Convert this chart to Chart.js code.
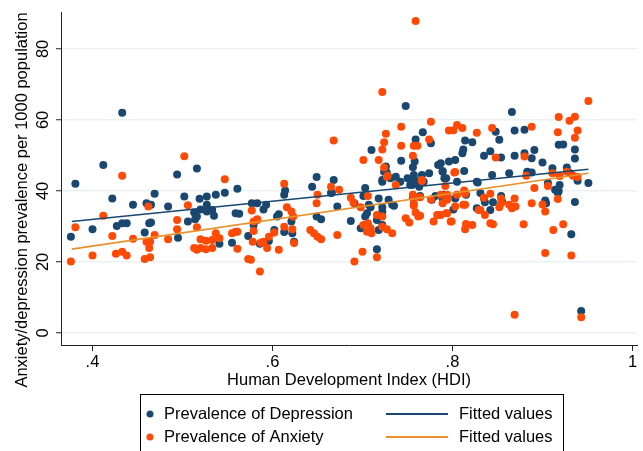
<!DOCTYPE html>
<html lang="en">
<head>
<meta charset="UTF-8">
<title>Anxiety and depression prevalence by HDI</title>
<style>
  body { margin: 0; background: #fff; }
  #chart { display: block; }
</style>
</head>
<body>
<canvas id="chart" width="643" height="451"></canvas>

<script src="https://cdn.jsdelivr.net/npm/chart.js"></script>
<script>
// Depression: HDI and prevalence per 1000
const depHdi = [
  0.433,0.412,0.494,0.516,0.381,0.561,0.547,0.537,0.527,0.519,
  0.502,0.469,0.422,0.445,0.460,0.465,0.484,0.527,0.513,0.520,
  0.527,0.533,0.535,0.516,0.559,0.563,0.577,0.579,0.573,0.586,
  0.376,0.400,0.427,0.433,0.438,0.458,0.463,0.465,0.495,0.506,
  0.514,0.541,0.555,0.649,0.668,0.644,0.614,0.613,0.665,0.703,
  0.691,0.672,0.707,0.705,0.703,0.718,0.729,0.733,0.607,0.605,
  0.593,0.590,0.583,0.649,0.654,0.621,0.602,0.613,0.622,0.624,
  0.596,0.687,0.698,0.716,0.722,0.722,0.718,0.716,0.722,0.724,
  0.727,0.731,0.737,0.742,0.750,0.757,0.759,0.753,0.766,0.768,
  0.774,0.789,0.791,0.756,0.764,0.777,0.790,0.748,0.767,0.759,
  0.776,0.710,0.743,0.758,0.756,0.726,0.784,0.789,0.796,0.814,
  0.822,0.812,0.811,0.803,0.727,0.722,0.755,0.763,0.758,0.793,
  0.805,0.827,0.666,0.701,0.735,0.722,0.709,0.781,0.789,0.803,
  0.815,0.827,0.866,0.918,0.923,0.936,0.936,0.869,0.880,0.848,
  0.852,0.835,0.842,0.854,0.869,0.880,0.891,0.888,0.900,0.787,
  0.813,0.844,0.863,0.883,0.888,0.911,0.927,0.828,0.906,0.914,
  0.919,0.917,0.939,0.951,0.831,0.835,0.836,0.845,0.854,0.855,
  0.842,0.801,0.903,0.904,0.936,0.932,0.943,0.931,0.918
];
const depRate = [
  62.0,47.3,44.6,46.3,42.0,40.6,39.5,38.9,38.4,37.8,
  38.4,39.2,37.9,36.1,36.5,36.1,35.6,36.1,33.9,34.8,
  34.2,34.6,33.0,32.8,33.7,33.6,36.5,30.4,27.3,25.1,
  27.1,29.2,30.1,30.9,30.9,28.3,30.9,31.1,26.8,31.4,
  32.0,25.1,25.4,43.9,43.1,41.2,40.1,38.9,39.4,40.8,
  36.5,35.6,36.1,33.7,32.8,37.9,37.5,36.1,33.4,32.8,
  36.1,34.8,36.5,32.8,32.0,31.4,29.0,28.4,28.1,25.7,
  25.9,31.5,29.5,31.8,34.2,30.4,29.0,23.6,43.1,45.4,
  44.5,43.6,44.0,42.6,43.6,44.5,42.2,41.7,44.5,42.6,
  45.0,45.4,43.6,38.2,38.6,37.5,38.9,63.9,56.5,54.5,
  53.4,51.5,48.5,48.3,46.7,46.9,47.3,45.6,48.3,54.2,
  53.7,51.7,50.6,48.7,45.1,42.6,41.7,41.2,43.1,43.6,
  42.6,42.6,39.5,38.6,35.8,35.4,35.4,38.6,37.9,37.9,
  38.9,35.1,62.2,53.0,53.1,51.7,49.1,57.0,57.2,56.7,
  54.4,49.9,51.2,49.4,49.9,50.6,51.5,49.2,48.0,47.8,
  45.6,44.5,45.0,45.4,45.2,46.4,46.6,42.4,42.2,40.3,
  41.7,39.5,42.9,42.2,39.4,37.9,36.8,36.8,38.6,37.0,
  34.6,34.8,37.3,36.5,36.9,27.8,6.2,45.0,40.0
];

// Anxiety: HDI and prevalence per 1000
const anxHdi = [
  0.433,0.502,0.547,0.462,0.506,0.577,0.583,0.579,0.578,0.573,
  0.586,0.412,0.381,0.376,0.400,0.422,0.426,0.433,0.438,0.445,
  0.469,0.460,0.464,0.463,0.464,0.458,0.484,0.494,0.494,0.516,
  0.520,0.526,0.533,0.537,0.541,0.513,0.516,0.520,0.526,0.533,
  0.555,0.559,0.561,0.561,0.613,0.665,0.674,0.650,0.706,0.687,
  0.649,0.698,0.616,0.621,0.623,0.583,0.579,0.613,0.622,0.602,
  0.596,0.590,0.587,0.594,0.607,0.624,0.576,0.642,0.646,0.650,
  0.654,0.672,0.701,0.706,0.709,0.710,0.705,0.716,0.722,0.722,
  0.727,0.733,0.716,0.700,0.691,0.727,0.737,0.766,0.756,0.757,
  0.792,0.794,0.789,0.794,0.798,0.779,0.785,0.748,0.752,0.759,
  0.762,0.759,0.722,0.668,0.776,0.743,0.726,0.796,0.774,0.724,
  0.722,0.743,0.757,0.761,0.756,0.701,0.718,0.724,0.728,0.805,
  0.801,0.811,0.827,0.803,0.766,0.813,0.805,0.814,0.803,0.794,
  0.690,0.757,0.757,0.764,0.776,0.764,0.783,0.829,0.951,0.918,
  0.930,0.936,0.917,0.939,0.936,0.888,0.844,0.848,0.880,0.802,
  0.882,0.911,0.919,0.927,0.934,0.939,0.906,0.891,0.787,0.795,
  0.814,0.835,0.842,0.854,0.854,0.852,0.863,0.866,0.870,0.869,
  0.831,0.836,0.842,0.845,0.812,0.793,0.787,0.799,0.815,0.814,
  0.822,0.879,0.888,0.900,0.903,0.923,0.912,0.903,0.932,0.869,
  0.943,0.917
];
const anxRate = [
  44.3,49.8,43.3,35.6,36.0,34.5,31.8,28.7,25.7,20.8,
  17.3,33.0,29.8,20.1,21.8,27.3,22.3,22.9,21.8,26.5,
  27.6,25.7,25.7,23.9,21.3,20.8,26.4,31.8,29.2,29.8,
  26.4,26.0,26.2,28.1,26.7,23.9,23.4,23.9,23.6,23.9,
  28.1,28.5,28.5,23.7,42.0,41.2,40.3,38.9,38.6,38.1,
  36.5,35.4,35.4,34.2,32.8,32.0,31.4,29.9,29.2,28.3,
  27.1,25.7,25.4,23.9,23.4,25.3,20.6,29.0,28.1,27.1,
  26.4,27.6,30.4,30.9,29.5,28.1,28.5,33.2,32.8,29.9,
  29.2,28.1,21.3,22.9,20.1,44.0,41.7,43.1,38.9,36.5,
  41.4,38.9,36.5,33.7,31.4,31.4,33.2,32.3,31.1,33.9,
  32.8,87.9,67.9,54.2,59.5,58.1,56.1,57.0,54.5,53.7,
  51.7,52.7,52.7,52.7,49.9,48.7,48.7,46.6,44.3,58.6,
  57.1,57.7,56.4,45.3,42.8,40.1,38.9,36.1,35.6,37.5,
  36.7,38.2,35.8,38.2,37.6,33.0,33.2,34.6,65.3,60.8,
  59.8,60.9,56.5,57.0,55.0,58.1,57.7,49.4,49.7,45.2,
  44.3,45.0,44.2,45.4,44.3,43.9,41.4,40.8,38.9,38.2,
  39.2,38.1,39.2,37.9,36.5,35.4,36.1,35.1,35.6,37.9,
  34.6,33.2,30.9,30.6,36.1,33.7,33.2,31.4,30.7,29.2,
  30.4,30.6,36.5,36.2,34.2,30.6,29.0,22.5,21.8,5.1,
  4.4,37.7
];

// Fitted lines (end points)
const fitHdi = [0.377, 0.951];
const fitDep = [31.4, 46.1];
const fitAnx = [23.6, 45.0];

const xTicks = [0.4, 0.6, 0.8, 1];
const yTicks = [0, 20, 40, 60, 80];

const NAVY = '#1a476f';
const RED = '#ff4a06';
const ORANGE = '#e8912b';
const FONT = { family: '"Liberation Sans", Arial, sans-serif', size: 16.5 };

function toPoints(xs, ys) {
  return xs.map((x, i) => ({ x: x, y: ys[i] }));
}

// y title and the boxed legend, Stata style
const extras = {
  id: 'extras',
  afterDraw(chart) {
    const ctx = chart.ctx;
    ctx.save();
    ctx.fillStyle = '#000';
    ctx.font = '16.5px ' + FONT.family;
    ctx.textBaseline = 'middle';

    ctx.save();
    ctx.translate(22, 200);
    ctx.rotate(-Math.PI / 2);
    ctx.textAlign = 'center';
    ctx.fillText('Anxiety/depression prevalence per 1000 population', 0, 0);
    ctx.restore();

    ctx.strokeStyle = '#000';
    ctx.lineWidth = 1;
    ctx.strokeRect(140.5, 394.5, 423, 60);

    const rows = [
      { y: 414, color: NAVY, line: NAVY, label: 'Prevalence of Depression' },
      { y: 437, color: RED, line: ORANGE, label: 'Prevalence of Anxiety' }
    ];
    ctx.textAlign = 'left';
    rows.forEach(r => {
      ctx.fillStyle = r.color;
      ctx.beginPath();
      ctx.arc(150, r.y, 3.5, 0, Math.PI * 2);
      ctx.fill();
      ctx.fillStyle = '#000';
      ctx.fillText(r.label, 164, r.y);
      ctx.strokeStyle = r.line;
      ctx.lineWidth = 1.8;
      ctx.beginPath();
      ctx.moveTo(386, r.y);
      ctx.lineTo(448, r.y);
      ctx.stroke();
      ctx.fillText('Fitted values', 459, r.y);
    });
    ctx.restore();
  }
};

new Chart(document.getElementById('chart'), {
  type: 'scatter',
  data: {
    datasets: [
      {
        label: 'Prevalence of Depression',
        data: toPoints(depHdi, depRate),
        backgroundColor: NAVY,
        borderWidth: 0,
        pointRadius: 4,
        order: 4
      },
      {
        label: 'Prevalence of Anxiety',
        data: toPoints(anxHdi, anxRate),
        backgroundColor: RED,
        borderWidth: 0,
        pointRadius: 4,
        order: 3
      },
      {
        label: 'Fitted values',
        data: toPoints(fitHdi, fitDep),
        showLine: true,
        borderColor: NAVY,
        borderWidth: 1.6,
        pointRadius: 0,
        order: 2
      },
      {
        label: 'Fitted values',
        data: toPoints(fitHdi, fitAnx),
        showLine: true,
        borderColor: ORANGE,
        borderWidth: 1.6,
        pointRadius: 0,
        order: 1
      }
    ]
  },
  options: {
    responsive: false,
    animation: false,
    devicePixelRatio: 1,
    layout: { padding: { top: 12, right: 6, bottom: 59, left: 0 } },
    plugins: {
      legend: { display: false },
      tooltip: { enabled: false }
    },
    scales: {
      x: {
        type: 'linear',
        min: 0.365,
        max: 1.005,
        afterBuildTicks: s => { s.ticks = xTicks.map(v => ({ value: v })); },
        afterFit: s => { s.height = 47; s.paddingLeft = 0; s.paddingRight = 0; },
        grid: { drawOnChartArea: false, tickLength: 6, tickColor: '#222', tickWidth: 1 },
        border: { color: '#222', width: 1 },
        ticks: {
          color: '#000',
          font: FONT,
          padding: 2,
          maxRotation: 0,
          callback: v => (v === 1 ? '1' : String(v).replace(/^0/, ''))
        },
        title: {
          display: true,
          text: 'Human Development Index (HDI)',
          color: '#000',
          font: FONT,
          padding: { top: 0, bottom: 2 }
        }
      },
      y: {
        type: 'linear',
        min: -3.4,
        max: 90.4,
        afterBuildTicks: s => { s.ticks = yTicks.map(v => ({ value: v })); },
        afterFit: s => { s.width = 61; s.paddingTop = 0; s.paddingBottom = 0; },
        grid: { color: '#eaf1f3', lineWidth: 1.5, tickLength: 5, tickColor: '#222', tickWidth: 1 },
        border: { color: '#222', width: 1 },
        ticks: {
          color: '#000',
          font: FONT,
          padding: 3,
          minRotation: 90,
          maxRotation: 90,
          crossAlign: 'center'
        }
      }
    }
  },
  plugins: [extras]
});
</script>
</body>
</html>
